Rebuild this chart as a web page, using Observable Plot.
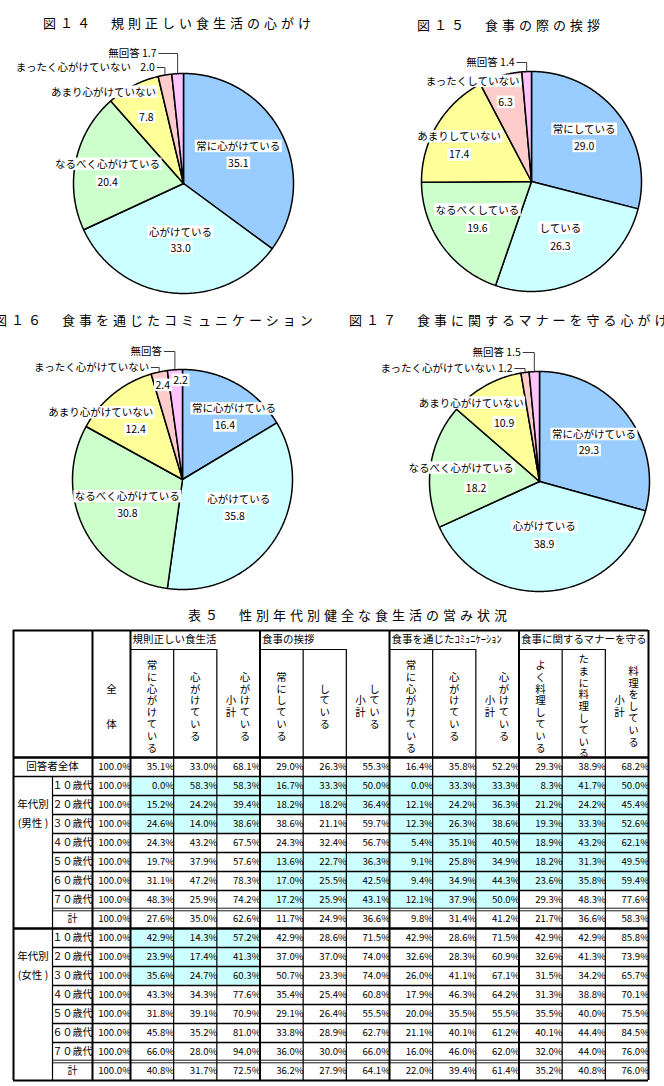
<!DOCTYPE html>
<html><head><meta charset="utf-8">
<script src="https://cdn.jsdelivr.net/npm/d3@7"></script>
<script src="https://cdn.jsdelivr.net/npm/@observablehq/plot@0.6"></script>
<style>
body{margin:0;background:#fff;}
#page{position:relative;width:664px;height:1086px;overflow:hidden;font-family:"Noto Sans CJK JP","Noto Sans",sans-serif;background:#fff;}
.ttl{position:absolute;font-size:13px;line-height:13px;letter-spacing:4px;white-space:nowrap;color:#000;}
.blk{position:absolute;}
</style></head><body><div id="page"></div>
<script>
// ---------- DATA ----------
const pie14Title = "図１４　規則正しい食生活の心がけ";
const pie15Title = "図１５　食事の際の挨拶";
const pie16Title = "図１６　食事を通じたコミュニケーション";
const pie17Title = "図１７　食事に関するマナーを守る心がけ";
const tableTitle = "表５　性別年代別健全な食生活の営み状況";

const mindNames = ["常に心がけている","心がけている","なるべく心がけている","あまり心がけていない","まったく心がけていない","無回答"];
const greetNames = ["常にしている","している","なるべくしている","あまりしていない","まったくしていない","無回答"];
const pie14Values = [35.1, 33.0, 20.4, 7.8, 2.0, 1.7];
const pie15Values = [29.0, 26.3, 19.6, 17.4, 6.3, 1.4];
const pie16Values = [16.4, 35.8, 30.8, 12.4, 2.4, 2.2];
const pie17Values = [29.3, 38.9, 18.2, 10.9, 1.2, 1.5];
const sliceColors = ["#99CCFF","#CCFFFF","#CCFFCC","#FFFF99","#FFCCCC","#FFC4FF"];

const groupNames = ["規則正しい食生活","食事の挨拶","食事を通じたｺﾐｭﾆｹｰｼｮﾝ","食事に関するマナーを守る"];
const subHeaders = ["常に心がけている","心がけている","心がけている","常にしている","している","している","常に心がけている","心がけている","心がけている","よく料理している","たまに料理している","料理をしている"];
const subtotalFlags = [0,0,1,0,0,1,0,0,1,0,0,1];
const ageLabels = ["１０歳代","２０歳代","３０歳代","４０歳代","５０歳代","６０歳代","７０歳代","計"];

const totalRow = [100.0,35.1,33.0,68.1,29.0,26.3,55.3,16.4,35.8,52.2,29.3,38.9,68.2];
const maleRows = [
  [100.0, 0.0,58.3,58.3,16.7,33.3,50.0, 0.0,33.3,33.3, 8.3,41.7,50.0],
  [100.0,15.2,24.2,39.4,18.2,18.2,36.4,12.1,24.2,36.3,21.2,24.2,45.4],
  [100.0,24.6,14.0,38.6,38.6,21.1,59.7,12.3,26.3,38.6,19.3,33.3,52.6],
  [100.0,24.3,43.2,67.5,24.3,32.4,56.7, 5.4,35.1,40.5,18.9,43.2,62.1],
  [100.0,19.7,37.9,57.6,13.6,22.7,36.3, 9.1,25.8,34.9,18.2,31.3,49.5],
  [100.0,31.1,47.2,78.3,17.0,25.5,42.5, 9.4,34.9,44.3,23.6,35.8,59.4],
  [100.0,48.3,25.9,74.2,17.2,25.9,43.1,12.1,37.9,50.0,29.3,48.3,77.6],
  [100.0,27.6,35.0,62.6,11.7,24.9,36.6, 9.8,31.4,41.2,21.7,36.6,58.3]
];
const femaleRows = [
  [100.0,42.9,14.3,57.2,42.9,28.6,71.5,42.9,28.6,71.5,42.9,42.9,85.8],
  [100.0,23.9,17.4,41.3,37.0,37.0,74.0,32.6,28.3,60.9,32.6,41.3,73.9],
  [100.0,35.6,24.7,60.3,50.7,23.3,74.0,26.0,41.1,67.1,31.5,34.2,65.7],
  [100.0,43.3,34.3,77.6,35.4,25.4,60.8,17.9,46.3,64.2,31.3,38.8,70.1],
  [100.0,31.8,39.1,70.9,29.1,26.4,55.5,20.0,35.5,55.5,35.5,40.0,75.5],
  [100.0,45.8,35.2,81.0,33.8,28.9,62.7,21.1,40.1,61.2,40.1,44.4,84.5],
  [100.0,66.0,28.0,94.0,36.0,30.0,66.0,16.0,46.0,62.0,32.0,44.0,76.0],
  [100.0,40.8,31.7,72.5,36.2,27.9,64.1,22.0,39.4,61.4,35.2,40.8,76.0]
];
// highlighted (cyan) groups per row
const totalHighlight = "0000";
const maleHighlight = ["1111","1111","1011","0011","0111","0111","0110","0000"];
const femaleHighlight = ["1000","1000","1000","0000","0000","0000","0000","0000"];

// ---------- LAYOUT ----------
const FONT = '"Noto Sans CJK JP","Noto Sans",sans-serif';
const R = 110;
const page = document.getElementById("page");
function addTitle(text, left, top) {
  const d = document.createElement("div");
  d.className = "ttl"; d.textContent = text;
  d.style.left = left + "px"; d.style.top = top + "px";
  page.appendChild(d);
}
function addBlock(node, left, top) {
  const d = document.createElement("div");
  d.className = "blk"; d.style.left = left + "px"; d.style.top = top + "px";
  d.appendChild(node); page.appendChild(d);
  return d;
}
function addBoxes(svg, fs) {
  svg.querySelectorAll('g[aria-label="text"] text').forEach(t => {
    const b = t.getBBox();
    const r = document.createElementNS("http://www.w3.org/2000/svg", "rect");
    const h = fs + 2;
    r.setAttribute("x", b.x - 1.5); r.setAttribute("width", b.width + 3);
    r.setAttribute("y", b.y + b.height / 2 - h / 2 + 0.5); r.setAttribute("height", h);
    r.setAttribute("fill", "#fff");
    const tr = t.getAttribute("transform"); if (tr) r.setAttribute("transform", tr);
    t.parentNode.insertBefore(r, t);
  });
}

// label layout per slice (k: radius factor, da: angle nudge, ndx/ndy: name offset px)
const pie14Layout = [
  {k:0.53, da:6.8, ndx:0, ndy:-17},
  {k:0.59, da:-3.2, ndx:0, ndy:-16},
  {k:0.69, da:-11.1, ndx:0, ndy:-18},
  {k:0.69, da:-1.9, ndx:-43, ndy:-25},
  {lead:{ly:-116, gap:10}, valGap:24},
  {lead:{ly:-130, gap:21}, joined:true}
];
const pie15Layout = [
  {k:0.575, da:4.2, ndx:0, ndy:-17},
  {k:0.645, da:4.2, ndx:0, ndy:-18},
  {k:0.65, da:-5.2, ndx:0, ndy:-18},
  {k:0.70, da:-10.8, ndx:0, ndy:-18},
  {k:0.756, da:-1.8, ndx:-33, ndy:-21},
  {lead:{ly:-119, gap:12}, joined:true}
];
const pie16Layout = [
  {k:0.62, da:8.9, ndx:9, ndy:-17},
  {k:0.58, da:1.6, ndx:4, ndy:-17},
  {k:0.59, da:-5.2, ndx:0, ndy:-17},
  {k:0.62, da:-4.5, ndx:-35, ndy:-17},
  {lead:{ly:-112, gap:10}, k:0.873, da:0.4},
  {lead:{ly:-128, gap:13}, k:0.90, da:2.8}
];
const pie17Layout = [
  {k:0.53, da:5.3, ndx:5, ndy:-16},
  {k:0.577, da:0.25, ndx:0, ndy:-18},
  {k:0.58, da:-14.3, ndx:-15, ndy:-20},
  {k:0.62, da:-1.9, ndx:-33, ndy:-20},
  {lead:{ly:-113, gap:12.5}, joined:true},
  {lead:{ly:-129, gap:13.5}, joined:true}
];

const rad = a => a * Math.PI / 180;
const pt = (a, r) => ({x: r * Math.sin(rad(a)), y: -r * Math.cos(rad(a))});

function drawPie(names, values, layout, W, H, cx, cy) {
  const total = d3.sum(values);
  let cum = 0;
  const slices = values.map((v, i) => {
    const a0 = cum / total * 360; cum += v; const a1 = cum / total * 360;
    return {i, name: names[i], value: v, a0, a1, mid: (a0 + a1) / 2};
  });
  const marks = [];
  for (const s of slices) {
    const pts = [{x:0, y:0}];
    const n = Math.max(2, Math.ceil((s.a1 - s.a0) / 0.5));
    for (let k = 0; k <= n; k++) pts.push(pt(s.a0 + (s.a1 - s.a0) * k / n, 1));
    pts.push({x:0, y:0});
    marks.push(Plot.line(pts, {x:"x", y:"y", fill: sliceColors[s.i], stroke:"#000", strokeWidth:1.5, strokeLinejoin:"miter"}));
  }
  const mids = [], ends = [], leads = [];
  slices.forEach((s, i) => {
    const L = layout[i];
    const vt = s.value.toFixed(1);
    if (L.lead) {
      const ap = pt(s.mid, 1);
      const ly = L.lead.ly / R;
      const endX = ap.x - L.lead.gap / R;
      leads.push({id:i, x:endX + 2 / R, y:ly}, {id:i, x:ap.x, y:ly}, {id:i, x:ap.x, y:ap.y});
      if (L.joined) ends.push({x:endX, y:ly, t:s.name + " " + vt});
      else if (L.valGap != null) {
        ends.push({x:endX, y:ly, t:vt});
        ends.push({x:endX - L.valGap / R, y:ly, t:s.name});
      } else {
        ends.push({x:endX, y:ly, t:s.name});
        const vp = pt(s.mid + L.da, L.k);
        mids.push({x:vp.x, y:vp.y, t:vt});
      }
    } else {
      const vp = pt(s.mid + L.da, L.k);
      mids.push({x:vp.x, y:vp.y, t:vt});
      mids.push({x:vp.x + L.ndx / R, y:vp.y + L.ndy / R, t:s.name});
    }
  });
  marks.push(Plot.line(leads, {x:"x", y:"y", z:"id", stroke:"#222", strokeWidth:0.9, fill:"none"}));
  marks.push(Plot.text(mids, {x:"x", y:"y", text:"t", fontSize:10.5, fontFamily:FONT, fill:"#000"}));
  marks.push(Plot.text(ends, {x:"x", y:"y", text:"t", textAnchor:"end", fontSize:10.5, fontFamily:FONT, fill:"#000"}));
  return Plot.plot({
    width: W, height: H, margin: 0,
    x: {domain: [-cx / R, (W - cx) / R], range: [0, W], axis: null},
    y: {domain: [-cy / R, (H - cy) / R], range: [0, H], axis: null},
    style: {background: "transparent", fontFamily: FONT},
    marks
  });
}

// ---------- PIES ----------
addTitle(pie14Title, 43, 16);
addTitle(pie15Title, 417, 18);
addTitle(pie16Title, -6, 313);
addTitle(pie17Title, 349, 313);
addTitle(tableTitle, 188, 608);

const p14 = drawPie(mindNames, pie14Values, pie14Layout, 332, 260, 183, 143);
const p15 = drawPie(greetNames, pie15Values, pie15Layout, 332, 260, 199, 141);
const p16 = drawPie(mindNames, pie16Values, pie16Layout, 332, 260, 182, 143);
const p17 = drawPie(mindNames, pie17Values, pie17Layout, 332, 260, 207, 145);
addBlock(p14, 0, 40); addBlock(p15, 332, 40); addBlock(p16, 0, 336); addBlock(p17, 332, 336);
[p14, p15, p16, p17].forEach(s => addBoxes(s, 10.5));

// ---------- TABLE ----------
// column / row index -> pixel position inside the table block (piecewise grid)
const colX = d3.scaleLinear().domain([0, 1, 2, 3, 15]).range([13, 52, 92, 130, 648]);
const rowY = d3.scaleLinear().domain([-2, -1, 0, 17]).range([10, 29, 137, 460]);

const rows = [{label:"回答者全体", values: totalRow, hl: totalHighlight}]
  .concat(maleRows.map((v, i) => ({label: ageLabels[i], values: v, hl: maleHighlight[i]})))
  .concat(femaleRows.map((v, i) => ({label: ageLabels[i], values: v, hl: femaleHighlight[i]})));

const hlCells = [], valCells = [], ageCells = [];
rows.forEach((r, ri) => {
  r.values.forEach((v, j) => {
    const col = 2 + j;
    valCells.push({col, row: ri, t: v.toFixed(1) + "%"});
    if (j > 0 && r.hl[Math.floor((j - 1) / 3)] === "1") hlCells.push({col, row: ri});
  });
  if (ri > 0) ageCells.push({row: ri, t: r.label});
});
const sideLabels = [
  {c:1, r:0.5, t:"回答者全体"},
  {c:0.5, r:2.5, t:"年代別"}, {c:0.5, r:3.5, t:"(男性 )"},
  {c:0.5, r:10.5, t:"年代別"}, {c:0.5, r:11.5, t:"(女性 )"}
];
const subMain = subHeaders.map((s, j) => ({col: 3 + j, t: s, sub: subtotalFlags[j]}));
const groupCells = groupNames.map((g, gi) => ({col: 3 + gi * 3, t: g}));

// rules (grid structure in column/row indices)
const hFull = [{y:1, a:0, b:15}];
const hInner = [];
for (let y = 2; y <= 7; y++) hInner.push({y, a:1, b:15});
for (let y = 10; y <= 15; y++) hInner.push({y, a:1, b:15});
const hDouble = [{y:8, a:1, b:15}, {y:16, a:1, b:15}];
const hThick = [{y:0, a:0, b:15}, {y:9, a:0, b:15}];
const hOuter = [{y:-2, a:0, b:15}, {y:17, a:0, b:15}];
const hGroup = [0,1,2,3].map(g => ({y:-1, a: 3 + 3 * g, b: 5 + 3 * g}));
const vSide = [{x:1, a:1, b:17}];
const vThin = [4,5,7,8,10,11,13,14].map(x => ({x, a:-1, b:17}));
const vThick = [2,3,6,9,12].map(x => ({x, a:-2, b:17}));
const vOuter = [0,15].map(x => ({x, a:-2, b:17}));

const hRule = (data, w, dy = 0) => Plot.ruleY(data, {y: d => rowY(d.y), x1: d => colX(d.a), x2: d => colX(d.b), stroke: "#000", strokeWidth: w, dy});
const vRule = (data, w) => Plot.ruleX(data, {x: d => colX(d.x), y1: d => rowY(d.a), y2: d => rowY(d.b), stroke: "#000", strokeWidth: w});
const txt = {fontFamily: FONT, fill: "#000"};

const tableSvg = Plot.plot({
  width: 664, height: 466, margin: 0,
  x: {type: "linear", domain: [0, 664], range: [0, 664], axis: null},
  y: {type: "linear", domain: [0, 466], range: [0, 466], axis: null},
  style: {background: "transparent", fontFamily: FONT},
  marks: [
    Plot.rect(hlCells, {x1: d => colX(d.col), x2: d => colX(d.col + 1), y1: d => rowY(d.row), y2: d => rowY(d.row + 1), fill: "#CCFFFF"}),
    Plot.text(valCells, {x: d => colX(d.col + 1), y: d => rowY(d.row + 0.5), text: "t", textAnchor: "end", dx: 0.5, fontSize: 9.6, ...txt}),
    Plot.text(sideLabels, {x: d => colX(d.c), y: d => rowY(d.r), text: "t", fontSize: 10.5, ...txt}),
    Plot.text(ageCells, {x: colX(1.5), y: d => rowY(d.row + 0.5), text: "t", fontSize: 10, ...txt}),
    Plot.text(groupCells, {x: d => colX(d.col), y: rowY(-1.5), text: "t", textAnchor: "start", dx: 2, fontSize: 10.5, ...txt}),
    // vertical header texts (groups 5..8 of text marks)
    Plot.text(subMain.filter(d => !d.sub), {x: d => colX(d.col + 0.5), y: rowY(-0.5), text: "t", fontSize: 10.5, ...txt}),
    Plot.text(subMain.filter(d => d.sub), {x: d => colX(d.col + 0.5), y: rowY(-0.5), text: "t", dx: 6.5, fontSize: 10.5, ...txt}),
    Plot.text(subMain.filter(d => d.sub), {x: d => colX(d.col + 0.5), y: rowY(-0.5), text: () => "小計", dx: -7.5, fontSize: 10.5, ...txt}),
    Plot.text(["全　　体"], {x: colX(2.5), y: rowY(-0.5), text: d => d, fontSize: 10.5, ...txt}),
    hRule(hFull, 1.5),
    hRule(hInner, 1.5),
    hRule(hDouble, 0.9, -1.3),
    hRule(hDouble, 0.9, 1.3),
    hRule(hThick, 2.5),
    hRule(hOuter, 2),
    hRule(hGroup, 1.2),
    vRule(vSide, 1.2),
    vRule(vThin, 1.2),
    vRule(vThick, 2),
    vRule(vOuter, 2)
  ]
});
// set vertical writing for header text groups
const textGroups = tableSvg.querySelectorAll('g[aria-label="text"]');
[4, 5, 6, 7].forEach(k => {
  const g = textGroups[k];
  if (!g) return;
  g.querySelectorAll("text").forEach(t => {
    t.removeAttribute("dy");
    t.style.writingMode = "vertical-rl";
    t.style.letterSpacing = "1.3px";
  });
});
addBlock(tableSvg, 0, 620);
</script></body></html>
